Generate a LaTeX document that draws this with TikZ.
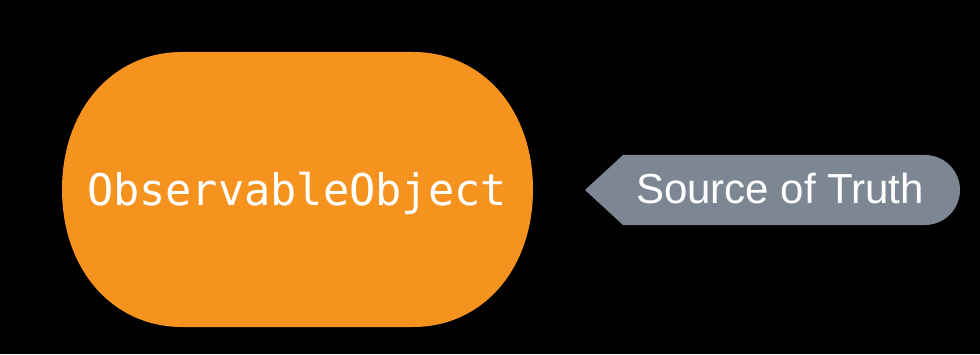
\documentclass[tikz,border=0pt]{standalone}
\usepackage{fontspec}
\setmainfont{Liberation Sans}
\setmonofont{DejaVu Sans Mono}
\definecolor{objorange}{RGB}{245,147,30}
\definecolor{tagslate}{RGB}{125,135,147}
\tikzset{objtext/.style={text=white, anchor=base, font=\ttfamily\fontsize{43.6}{43.6}\selectfont},
         tagtext/.style={text=white, font=\fontsize{42}{42}\selectfont, anchor=base}}

\begin{document}
\begin{tikzpicture}[x=1pt, y=1pt]
    \fill [black] (0, 0) rectangle (980, 354);

    % soft pill for the object
    \fill [objorange] (182, 302) -- (413, 302)
        .. controls (482.6, 302) and (533, 244.25) .. (533, 164.5)
        .. controls (533, 84.75) and (482.6, 27) .. (413, 27)
        -- (182, 27)
        .. controls (112.4, 27) and (62, 84.75) .. (62, 164.5)
        .. controls (62, 244.25) and (112.4, 302) .. (182, 302) -- cycle;
    \node [objtext] (obj) at (297, 149) {ObservableObject};

    % pointed tag on the right
    \coordinate (tip) at (585, 164);
    \fill [tagslate] (tip) -- (623, 199) -- (925, 199)
        arc [start angle=90, end angle=-90, radius=35] -- (623, 129) -- cycle;
    \node [tagtext] (truth) at (780, 151) {Source of Truth};
\end{tikzpicture}
\end{document}
